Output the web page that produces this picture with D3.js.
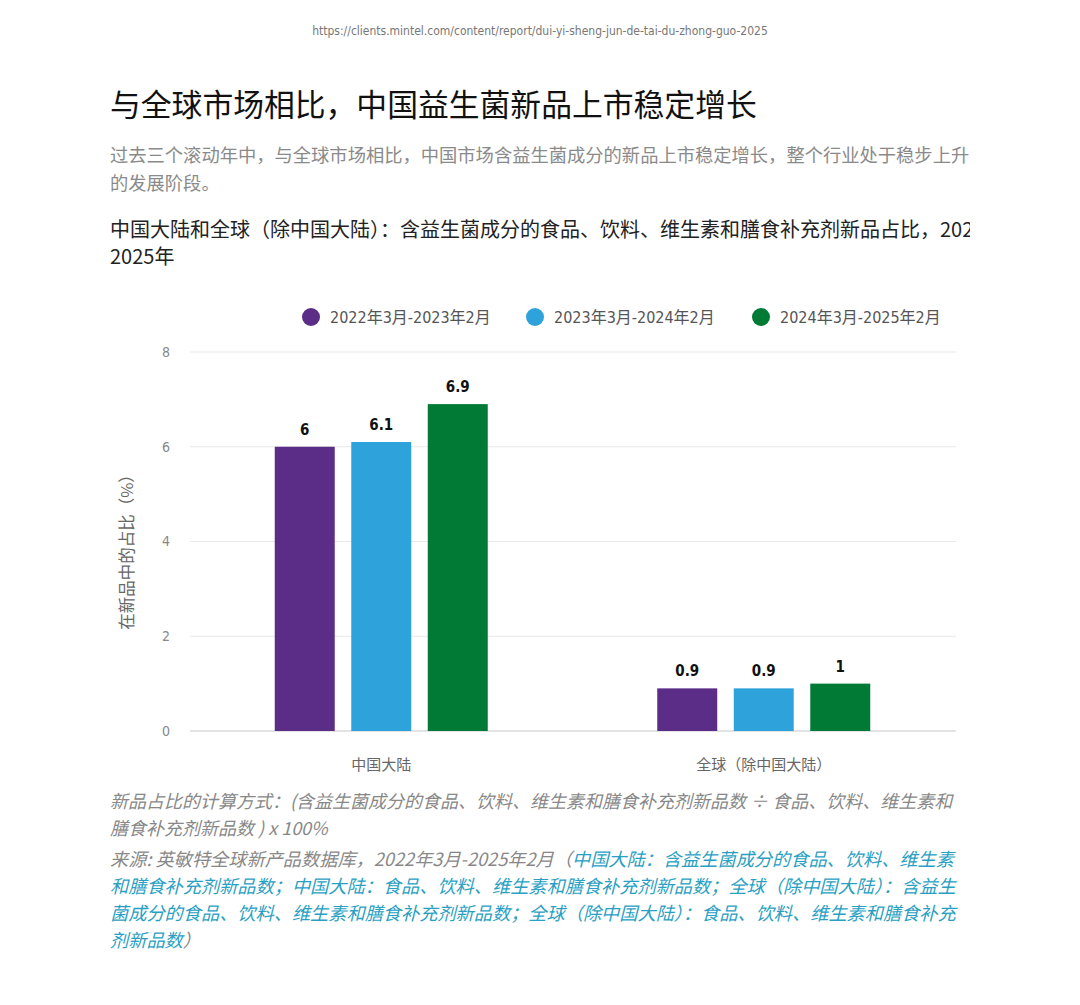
<!DOCTYPE html>
<html>
<head>
<meta charset="utf-8">
<script src="https://cdn.jsdelivr.net/npm/d3@7"></script>
<style>
  body { margin: 0; background: #fff; }
  svg { display: block; }
</style>
</head>
<body>
<div id="chart"></div>
<script>
// données
const categories = ["中国大陆", "全球（除中国大陆）"];
const seriesNames = ["2022年3月-2023年2月", "2023年3月-2024年2月", "2024年3月-2025年2月"];
const seriesColors = ["#5b2d87", "#2ea3db", "#007a35"];
const values2023 = [6, 0.9];
const values2024 = [6.1, 0.9];
const values2025 = [6.9, 1];
const yTicks = [0, 2, 4, 6, 8];

const width = 1080;
const height = 1005;
const cjk = "'Noto Sans CJK SC', 'Noto Sans', sans-serif";
const narrow = "'Liberation Sans Narrow', 'DejaVu Sans Condensed', 'Noto Sans CJK SC', sans-serif";

const svg = d3.select("#chart")
  .append("svg")
  .attr("width", width)
  .attr("height", height);

// url en haut
svg.append("text")
  .attr("x", 540).attr("y", 35)
  .attr("text-anchor", "middle")
  .style("font-family", narrow)
  .style("font-size", "12px")
  .attr("fill", "#777")
  .text("https://clients.mintel.com/content/report/dui-yi-sheng-jun-de-tai-du-zhong-guo-2025");

// titre
svg.append("text")
  .attr("x", 110).attr("y", 116)
  .style("font-family", cjk)
  .style("font-size", "30.8px")
  .attr("fill", "#111")
  .text("与全球市场相比，中国益生菌新品上市稳定增长");

// sous-titre
const sub = ["过去三个滚动年中，与全球市场相比，中国市场含益生菌成分的新品上市稳定增长，整个行业处于稳步上升", "的发展阶段。"];
svg.append("g").selectAll("text")
  .data(sub)
  .join("text")
  .attr("x", 110)
  .attr("y", (d, i) => 162 + i * 28)
  .style("font-family", cjk)
  .style("font-size", "18.3px")
  .attr("fill", "#8a8a8a")
  .text(d => d);

// titre du graphique, coupé à droite
svg.append("defs").append("clipPath")
  .attr("id", "clipTitle")
  .append("rect")
  .attr("x", 100).attr("y", 200).attr("width", 870).attr("height", 80);

const chartTitle = ["中国大陆和全球（除中国大陆）：含益生菌成分的食品、饮料、维生素和膳食补充剂新品占比，2022-", "2025年"];
svg.append("g")
  .attr("clip-path", "url(#clipTitle)")
  .selectAll("text")
  .data(chartTitle)
  .join("text")
  .attr("x", 110)
  .attr("y", (d, i) => 237 + i * 27)
  .style("font-family", cjk)
  .style("font-size", "20px")
  .attr("fill", "#222")
  .text(d => d);

// échelles
const y = d3.scaleLinear().domain([0, 8]).range([731, 352]);
const x0 = d3.scaleBand().domain(categories).range([190, 955]).padding(0);
const x1 = d3.scaleBand().domain(d3.range(3)).range([0, 213]).paddingInner(0.216).paddingOuter(0);
const groupOffset = (x0.bandwidth() - 213) / 2;

// grille
svg.append("g")
  .selectAll("line")
  .data(yTicks)
  .join("line")
  .attr("x1", 190).attr("x2", 956)
  .attr("y1", d => y(d)).attr("y2", d => y(d))
  .attr("stroke", d => d === 0 ? "#c8c8c8" : "#e8e8e8")
  .attr("stroke-width", 1.2);

// axe y
const yAxis = svg.append("g")
  .attr("transform", "translate(170,0)")
  .call(d3.axisLeft(y).tickValues(yTicks).tickSize(0).tickPadding(0));
yAxis.select(".domain").remove();
yAxis.selectAll("text")
  .style("font-family", narrow)
  .style("font-size", "14px")
  .attr("fill", "#888");

svg.append("text")
  .attr("transform", "translate(133,548) rotate(-90)")
  .attr("text-anchor", "middle")
  .style("font-family", cjk)
  .style("font-size", "16.5px")
  .attr("fill", "#666")
  .text("在新品中的占比（%）");

// axe x
const xAxis = svg.append("g")
  .attr("transform", "translate(0,731)")
  .call(d3.axisBottom(x0).tickSize(0).tickPadding(28));
xAxis.select(".domain").remove();
xAxis.selectAll("text")
  .style("font-family", cjk)
  .style("font-size", "15px")
  .attr("fill", "#666");

// barres
const rows = categories.map((c, i) => ({
  cat: c,
  vals: [values2023[i], values2024[i], values2025[i]]
}));

const groups = svg.append("g")
  .selectAll("g")
  .data(rows)
  .join("g")
  .attr("transform", d => `translate(${x0(d.cat) + groupOffset},0)`);

groups.selectAll("rect")
  .data(d => d.vals.map((v, k) => ({ k, v })))
  .join("rect")
  .attr("x", d => x1(d.k))
  .attr("y", d => y(d.v))
  .attr("width", x1.bandwidth())
  .attr("height", d => y(0) - y(d.v))
  .attr("fill", d => seriesColors[d.k]);

groups.selectAll("text")
  .data(d => d.vals.map((v, k) => ({ k, v })))
  .join("text")
  .attr("x", d => x1(d.k) + x1.bandwidth() / 2)
  .attr("y", d => y(d.v) - 12)
  .attr("text-anchor", "middle")
  .style("font-family", narrow)
  .style("font-size", "15px")
  .style("font-weight", "bold")
  .attr("fill", "#111")
  .text(d => d.v);

// légende
const legendX = [311, 535, 761];
const legend = svg.append("g")
  .selectAll("g")
  .data(seriesNames)
  .join("g")
  .attr("transform", (d, i) => `translate(${legendX[i]},317)`);
legend.append("circle")
  .attr("r", 9)
  .attr("fill", (d, i) => seriesColors[i]);
legend.append("text")
  .attr("x", 19)
  .attr("y", 6)
  .style("font-family", narrow)
  .style("font-size", "16px")
  .attr("fill", "#555")
  .text(d => d);

// notes
const noteFont = cjk;
const notes = [
  "新品占比的计算方式：(含益生菌成分的食品、饮料、维生素和膳食补充剂新品数 ÷ 食品、饮料、维生素和",
  "膳食补充剂新品数 ) x 100%"
];
svg.append("g").selectAll("text")
  .data(notes)
  .join("text")
  .attr("x", 110)
  .attr("y", (d, i) => 808 + i * 27)
  .style("font-family", noteFont)
  .style("font-size", "18px")
  .style("font-style", "italic")
  .attr("fill", "#888")
  .text(d => d);

const grey = "#888", teal = "#2a9fc4";
const sourceLines = [
  [["来源: 英敏特全球新产品数据库，2022年3月-2025年2月（", grey], ["中国大陆：含益生菌成分的食品、饮料、维生素", teal]],
  [["和膳食补充剂新品数；中国大陆：食品、饮料、维生素和膳食补充剂新品数；全球（除中国大陆）：含益生", teal]],
  [["菌成分的食品、饮料、维生素和膳食补充剂新品数；全球（除中国大陆）：食品、饮料、维生素和膳食补充", teal]],
  [["剂新品数", teal], ["）", grey]]
];
svg.append("g").selectAll("text")
  .data(sourceLines)
  .join("text")
  .attr("x", 110)
  .attr("y", (d, i) => 866 + i * 27)
  .style("font-family", noteFont)
  .style("font-size", "18.2px")
  .style("font-style", "italic")
  .selectAll("tspan")
  .data(d => d)
  .join("tspan")
  .attr("fill", d => d[1])
  .text(d => d[0]);
</script>
</body>
</html>
